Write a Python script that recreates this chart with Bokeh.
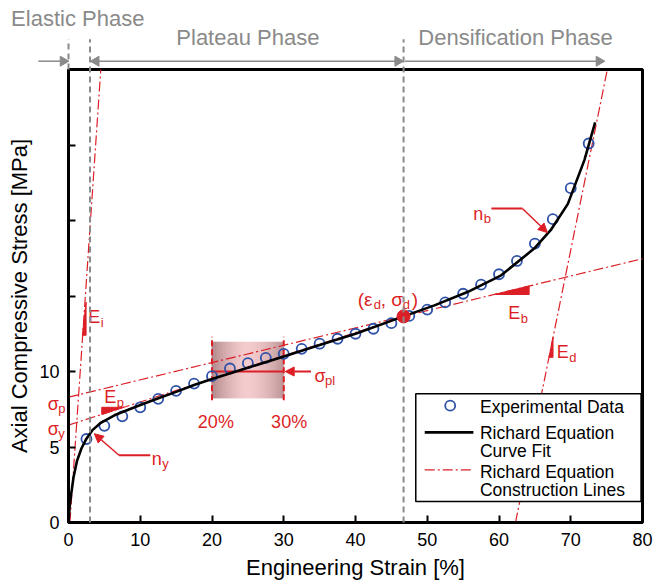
import math
from bokeh.plotting import figure
from bokeh.models import Arrow, NormalHead, FixedTicker, Range1d
from bokeh.core.properties import value
from bokeh.embed import file_html
from bokeh.resources import INLINE

# ---------------- data ----------------
strain_exp = [2.5, 5, 7.5, 10, 12.5, 15, 17.5, 20, 22.5, 25, 27.5, 30, 32.5, 35, 37.5,
              40, 42.5, 45, 47.5, 50, 52.5, 55, 57.5, 60, 62.5, 65, 67.5, 70, 72.5]
stress_exp = [5.53, 6.40, 7.03, 7.63, 8.19, 8.72, 9.20, 9.69, 10.20, 10.55, 10.90, 11.17, 11.50,
              11.84, 12.17, 12.50, 12.83, 13.20, 13.68, 14.10, 14.58, 15.15, 15.75, 16.44, 17.32,
              18.47, 20.09, 22.14, 25.10]

strain_fit = [0, 0.15, 0.35, 0.7, 1.2, 1.8, 2.5, 3.3, 4.5, 6.4, 8.5, 10.1, 12.9, 15, 17.5, 20,
              24, 30, 35, 40, 46.7, 51, 55.6, 60.3, 64.9, 67.2, 69.6, 71.9, 73.4]
stress_fit = [0, 1.0, 1.8, 3.0, 4.1, 4.9, 5.55, 6.1, 6.6, 7.1, 7.5, 7.8, 8.3, 8.65, 9.1, 9.5,
              10.1, 11.0, 11.75, 12.5, 13.65, 14.38, 15.26, 16.37, 18.14, 19.36, 21.1, 24.0, 26.5]

# construction lines
ei_x, ei_y = [0.2, 4.5], [0, 30]          # initial modulus E_i
ep_x, ep_y = [0, 46.7], [6.45, 13.6]      # plateau modulus E_p (from sigma_y)
eb_x, eb_y = [0, 80], [8.3, 17.47]        # E_b line (from sigma_p)
ed_x, ed_y = [62.3, 75.1], [0, 30]        # densification modulus E_d

eps_y = 3.0                                # end of elastic phase
eps_d, sig_d = 46.7, 13.65                 # densification point
pl_lo, pl_hi, sig_pl = 20, 30, 10          # plateau-stress window

x_ticks = [0, 10, 20, 30, 40, 50, 60, 70, 80]
y_ticks = [0, 5, 10, 15, 20, 25]
y_tick_text = {0: "0", 5: "5", 10: "10", 15: "", 20: "", 25: ""}

RED = "#dc1f26"
GREY = "#8a8a8a"
BLUE = "#2f52a8"
FONT = "Liberation Sans"
DASHDOT = "10 3 2 3"

p = figure(width=653, height=586, x_range=Range1d(0, 80), y_range=Range1d(0, 30),
           output_backend="svg", toolbar_location=None,
           min_border_left=68, min_border_right=11, min_border_top=69, min_border_bottom=64)
p.xgrid.visible = False
p.ygrid.visible = False
p.outline_line_color = "black"
p.outline_line_width = 3
p.background_fill_color = "white"

for ax in (p.xaxis[0], p.yaxis[0]):
    ax.major_tick_in = 7
    ax.major_tick_out = 0
    ax.minor_tick_in = 0
    ax.minor_tick_out = 0
    ax.axis_line_width = 3
    ax.major_tick_line_width = 2
    ax.major_label_text_font = FONT
    ax.major_label_text_font_size = "18px"
    ax.major_label_text_color = "black"
    ax.axis_label_text_font = FONT
    ax.axis_label_text_font_size = "22px"
    ax.axis_label_text_font_style = "normal"
    ax.axis_label_text_color = "black"

p.xaxis.ticker = FixedTicker(ticks=x_ticks)
p.yaxis.ticker = FixedTicker(ticks=y_ticks)
p.yaxis.major_label_overrides = y_tick_text
p.xaxis.axis_label = "Engineering Strain [%]"
p.yaxis.axis_label = "Axial Compressive Stress [MPa]"
p.xaxis.major_label_standoff = 10
p.xaxis.axis_label_standoff = 6
p.yaxis.major_label_standoff = 9
p.yaxis.axis_label_standoff = 4

# ---------------- shaded plateau window ----------------
n_strips = 50
c_left = (176, 134, 137)
c_mid = (244, 204, 206)
c_right = (190, 150, 152)
for k in range(n_strips):
    f = (k + 0.5) / n_strips
    edge = c_left if f < 0.5 else c_right
    t = abs(f - 0.5) * 2
    col = "#%02x%02x%02x" % tuple(int(c_mid[j] + (edge[j] - c_mid[j]) * t ** 1.6) for j in range(3))
    x0 = pl_lo + (pl_hi - pl_lo) * k / n_strips
    x1 = pl_lo + (pl_hi - pl_lo) * (k + 1) / n_strips
    p.quad(left=[x0], right=[x1], bottom=[8.25], top=[11.94],
           fill_color=col, line_color=col, line_width=1)

# ---------------- construction lines ----------------
for xs, ys in ((ei_x, ei_y), (ep_x, ep_y), (eb_x, eb_y), (ed_x, ed_y)):
    p.line(xs, ys, line_color=RED, line_width=1.2, line_dash=DASHDOT)

# plateau window markers
p.segment(x0=[pl_lo, pl_hi], y0=[8.1, 8.1], x1=[pl_lo, pl_hi], y1=[12.3, 12.3],
          line_color=RED, line_width=2, line_dash="6 3")
p.line([pl_lo, pl_hi], [sig_pl, sig_pl], line_color=RED, line_width=2)

# ---------------- phase boundaries (grey dashed) ----------------
top_hdr = 32.0
r = p.segment(x0=[0, eps_y, eps_d], y0=[30, 0, 0], x1=[0, eps_y, eps_d], y1=[top_hdr] * 3,
              line_color=GREY, line_width=2, line_dash="6 4")
r.level = "overlay"

# ---------------- data and fit ----------------
p.scatter(strain_exp, stress_exp, size=10, marker="circle", fill_color=None,
          line_color=BLUE, line_width=1.8)
p.line(strain_fit, stress_fit, line_color="black", line_width=2.6)
p.scatter([eps_d], [sig_d], size=13, marker="circle", fill_color=RED, line_color=RED)

# ---------------- slope triangles ----------------
tri_xs = [[1.93, 2.45, 2.45], [4.63, 4.63, 7.71], [59.3, 64.2, 64.2], [66.97, 67.53, 67.53]]
tri_ys = [[12.4, 14.6, 12.4], [7.16, 7.63, 7.63], [15.1, 15.1, 15.66], [10.94, 10.94, 12.27]]
p.patches(tri_xs, tri_ys, fill_color=RED, line_color=RED, line_width=1)


# ---------------- labels ----------------
def txt(x, y, s, size="18px", color=RED, align="left", baseline="alphabetic", xoff=0, overlay=False):
    rr = p.text(x=[x], y=[y], text=[s], text_font=value(FONT), text_font_size=size,
                text_color=color, text_align=align, text_baseline=baseline, x_offset=xoff)
    if overlay:
        rr.level = "overlay"
    return rr


def sub(x, y, main, subs, main_w, overlay=False):
    txt(x, y, main, overlay=overlay)
    txt(x, y - 0.33, subs, size="13px", xoff=main_w, overlay=overlay)


sub(2.76, 13.6, "E", "i", 12.5)
sub(4.99, 8.29, "E", "p", 12.5)
sub(61.3, 13.87, "E", "b", 12.5)
sub(68.04, 11.28, "E", "d", 12.5)
sub(11.6, 4.23, "n", "y", 10.5)
sub(56.4, 20.46, "n", "b", 10.5)
sub(34.3, 9.73, "σ", "pl", 10.5)
sub(-2.9, 7.88, "σ", "p", 10.5, overlay=True)
sub(-2.9, 6.22, "σ", "y", 10.5, overlay=True)
txt(20.54, 6.64, "20%", align="center")
txt(30.75, 6.64, "30%", align="center")

# (eps_d, sigma_d)
x0 = 40.3
yb = 14.75
txt(x0, yb, "(ε", size="19px")
txt(x0, yb - 0.33, "d", size="13px", xoff=16)
txt(x0, yb, ", σ", size="19px", xoff=23)
txt(x0, yb - 0.33, "d", size="13px", xoff=45)
txt(x0, yb, ")", size="19px", xoff=54)

# pointer arrows
p.line([11.4, 7.04], [4.45, 4.45], line_color=RED, line_width=2)
p.add_layout(Arrow(x_start=7.04, y_start=4.45, x_end=3.6, y_end=5.88, line_color=RED, line_width=1.5,
                   end=NormalHead(size=9, fill_color=RED, line_color=RED)))
p.line([58.94, 63.26], [20.8, 20.8], line_color=RED, line_width=2)
p.add_layout(Arrow(x_start=63.26, y_start=20.8, x_end=66.74, y_end=19.2, line_color=RED, line_width=1.5,
                   end=NormalHead(size=9, fill_color=RED, line_color=RED)))
p.add_layout(Arrow(x_start=33.8, y_start=sig_pl, x_end=30.2, y_end=sig_pl, line_color=RED, line_width=2,
                   end=NormalHead(size=9, fill_color=RED, line_color=RED)))

# ---------------- legend (drawn by hand) ----------------
p.quad(left=[48.4], right=[79.8], bottom=[1.39], top=[8.52], fill_color="white",
       line_color="black", line_width=1.5)
p.scatter([53.2], [7.74], size=10, marker="circle", fill_color=None, line_color=BLUE, line_width=1.8)
p.line([49.65, 56.43], [5.97, 5.97], line_color="black", line_width=2.6)
p.line([49.65, 56.43], [3.48, 3.48], line_color=RED, line_width=1.2, line_dash=DASHDOT)
for yy, s in ((7.68, "Experimental Data"), (5.9, "Richard Equation"), (4.76, "Curve Fit"),
              (3.32, "Richard Equation"), (2.15, "Construction Lines")):
    txt(57.35, yy, s, size="17.5px", color="black", baseline="middle")

# ---------------- phase header ----------------
txt(-8.0, 33.35, "Elastic Phase", size="22px", color=GREY, overlay=True)
txt(25.0, 32.1, "Plateau Phase", size="22px", color=GREY, align="center", overlay=True)
txt(62.3, 32.1, "Densification Phase", size="22px", color=GREY, align="center", overlay=True)
hy = 30.55
r = p.segment(x0=[-4.2, 3.6, 46.9], y0=[hy] * 3, x1=[-0.6, 46.1, 74.1], y1=[hy] * 3,
              line_color=GREY, line_width=1.5)
r.level = "overlay"
r = p.scatter(x=[-0.75, 3.85, 45.9, 73.95], y=[hy] * 4, marker="triangle", size=10,
              angle=[-math.pi / 2, math.pi / 2, -math.pi / 2, -math.pi / 2],
              fill_color=GREY, line_color=GREY)
r.level = "overlay"

open("out.html", "w").write(file_html(p, INLINE))
